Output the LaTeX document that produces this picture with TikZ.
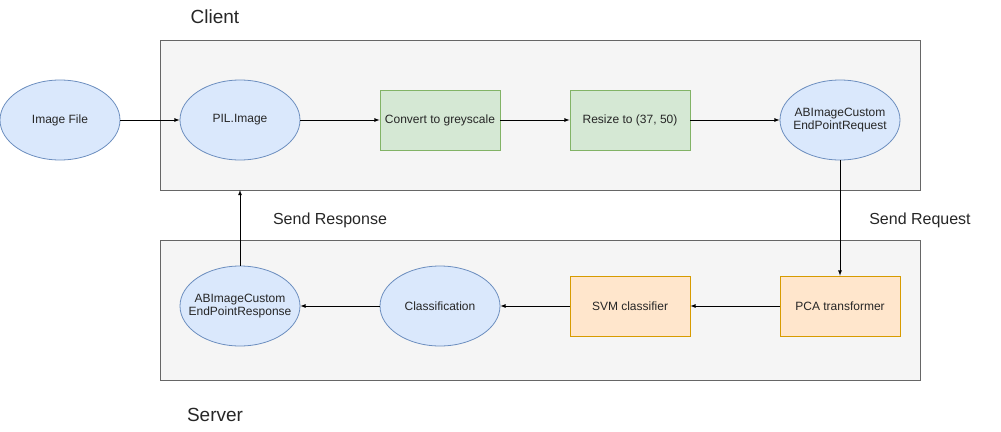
\documentclass[tikz,border=0pt]{standalone}
\usepackage{fontspec}
\setmainfont{Liberation Sans}
\usetikzlibrary{shapes.geometric}
\newcommand{\twolines}[2]{\makebox[0pt]{\begin{tabular}{@{}c@{}}#1\\[-1pt]#2\end{tabular}}}
\begin{document}
\begin{tikzpicture}[x=1pt,y=-1pt,>=latex,
    every node/.style={font=\fontsize{12}{14}\selectfont,text=black!85},
    blueell/.style={ellipse,draw=niceblue,fill=blue2,line width=0.8pt,
      minimum width=120pt,minimum height=80pt,inner sep=0pt,align=center},
    greenbox/.style={rectangle,draw=ggreen,fill=green2,line width=0.8pt,
      minimum width=120pt,minimum height=60pt,inner sep=0pt,align=center},
    orangebox/.style={rectangle,draw=orange1,fill=orange2,line width=0.8pt,
      minimum width=120pt,minimum height=60pt,inner sep=0pt,align=center},
    zone/.style={draw=grey1,fill=grey2,line width=1pt},
    title/.style={font=\fontsize{19}{22}\selectfont},
    flowlabel/.style={font=\fontsize{16}{18}\selectfont},
    flow/.style={->,line width=0.8pt,black}
]
  \definecolor{niceblue}{HTML}{6C8EBF}
  \definecolor{blue2}{HTML}{DAE8FC}
  \definecolor{ggreen}{HTML}{82B366}
  \definecolor{green2}{HTML}{D5E8D4}
  \definecolor{orange1}{HTML}{D79B00}
  \definecolor{orange2}{HTML}{FFE6CC}
  \definecolor{grey1}{HTML}{666666}
  \definecolor{grey2}{HTML}{F5F5F5}

  \useasboundingbox (0,0) rectangle (1001,431);

  %% zones
  \draw[zone] (160,40) rectangle (920,190);
  \draw[zone] (160,240) rectangle (920,380);
  \coordinate (clientbottom) at (240,190);

  \node[title] (client) at (215,17) {Client};
  \node[title] (server) at (215,415) {Server};

  %% client side
  \node[blueell] (imagefile) at (60,120) {Image File};
  \node[blueell] (pilimage) at (240,120) {PIL.Image};
  \node[greenbox] (grey) at (440,120) {Convert to greyscale};
  \node[greenbox] (resize) at (630,120) {Resize to (37, 50)};
  \node[blueell] (request) at (840,120) {\twolines{ABImageCustom}{EndPointRequest}};

  %% server side
  \node[orangebox] (pca) at (840,306) {PCA transformer};
  \node[orangebox] (svm) at (630,306) {SVM classifier};
  \node[blueell] (classif) at (440,306) {Classification};
  \node[blueell] (response) at (240,306) {\twolines{ABImageCustom}{EndPointResponse}};

  \node[flowlabel] (sendresp) at (330,220) {Send Response};
  \node[flowlabel] (sendreq) at (920,220) {Send Request};

  %% arrows
  \draw[flow] (imagefile) -- (pilimage);
  \draw[flow] (pilimage) -- (grey);
  \draw[flow] (grey) -- (resize);
  \draw[flow] (resize) -- (request);
  \draw[flow] (request) -- (pca);
  \draw[flow] (pca) -- (svm);
  \draw[flow] (svm) -- (classif);
  \draw[flow] (classif) -- (response);
  \draw[flow] (response) -- (clientbottom);

\end{tikzpicture}
\end{document}
